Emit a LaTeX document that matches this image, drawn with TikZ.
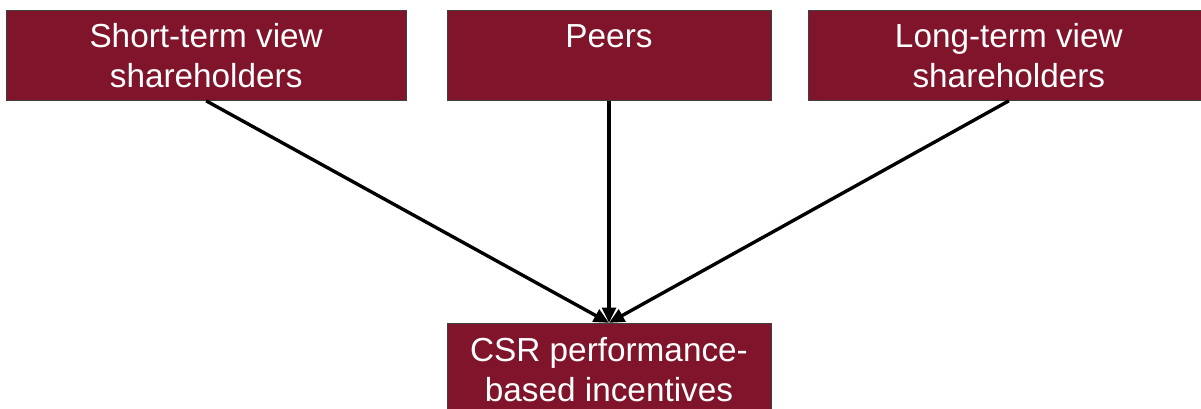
\documentclass[tikz,border=0pt]{standalone}
\usepackage{fontspec}
\setmainfont{Liberation Sans}
\usepackage{tikz}
\usetikzlibrary{positioning, arrows.meta}
\definecolor{maroon}{RGB}{128,20,42}
\newcommand{\twolines}[1]{\begin{tabular}[t]{@{}c@{}}#1\end{tabular}}

\begin{document}
\begin{tikzpicture}[
  box/.style={draw=black!75, line width=.6pt, fill=maroon, text=white,
    inner sep=0pt, text height=.92cm, text depth=1.33cm, minimum height=2.25cm,
    font=\fontsize{23.7}{28.5}\selectfont},
  wide/.style={box, minimum width=10cm},
  narrow/.style={box, minimum width=8.1cm},
  arr/.style={-{Triangle[length=.38cm, width=.34cm]}, line width=2.4pt}]
\useasboundingbox (0,0) rectangle (30.025,-10.225);
\node [narrow, anchor=north] (peers) at (15.225,-.25) {Peers};
\node [wide, left=1cm of peers] (short) {\twolines{Short-term view\\shareholders}};
\node [wide, right=.925cm of peers] (long) {\twolines{Long-term view\\shareholders}};
\node [narrow, below=5.55cm of peers, text height=.96cm, text depth=1.29cm] (csr)
  {\twolines{CSR performance-\\based incentives}};

\draw [arr] (short.south) -- (csr.north);
\draw [arr] (peers.south) -- (csr.north);
\draw [arr] (long.south) -- (csr.north);
\end{tikzpicture}
\end{document}
